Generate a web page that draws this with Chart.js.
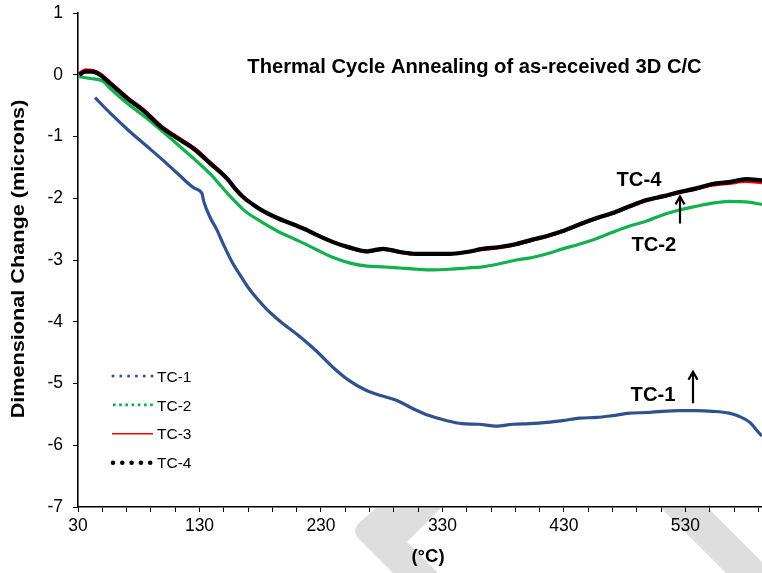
<!DOCTYPE html>
<html><head><meta charset="utf-8">
<script src="https://cdn.jsdelivr.net/npm/chart.js@4/dist/chart.umd.min.js"></script>
<style>html,body{margin:0;padding:0;background:#fff;overflow:hidden}#wrap{width:762px;height:573px}</style>
</head><body><div id="wrap"><canvas id="c" width="762" height="573"></canvas></div>
<script>
// ---- data (temperature in °C, dimensional change in microns) ----
const tc1T = [44,57,71,85,98,112,126,132,133.5,139,144,150,157,164,171,178,185,192,198,212,226,240,253,267,280,292,305,319,333,346,360,374,388,402,416,429,443,457,470,484,498,511,525,539,552,566,574,583,591,593];
const tc1Y = [-0.37,-0.63,-0.89,-1.13,-1.35,-1.6,-1.84,-1.92,-2.05,-2.32,-2.5,-2.76,-3.04,-3.26,-3.47,-3.64,-3.79,-3.92,-4.02,-4.23,-4.47,-4.74,-4.95,-5.11,-5.2,-5.27,-5.4,-5.52,-5.6,-5.65,-5.66,-5.69,-5.66,-5.65,-5.63,-5.6,-5.56,-5.55,-5.52,-5.48,-5.47,-5.45,-5.44,-5.44,-5.45,-5.48,-5.53,-5.63,-5.81,-5.85];
const tc2T = [31,40,50,57,71,85,98,112,126,139,153,167,180,194,208,219,226,240,254,268,281,295,309,322,336,350,363,377,391,404,416,429,443,457,470,484,498,511,525,539,552,566,580,593];
const tc2Y = [-0.03,-0.06,-0.1,-0.23,-0.47,-0.68,-0.89,-1.13,-1.37,-1.61,-1.92,-2.2,-2.37,-2.53,-2.66,-2.76,-2.83,-2.96,-3.05,-3.1,-3.11,-3.13,-3.15,-3.16,-3.15,-3.13,-3.11,-3.06,-3.0,-2.96,-2.9,-2.82,-2.74,-2.65,-2.55,-2.45,-2.37,-2.27,-2.19,-2.13,-2.08,-2.05,-2.06,-2.1];
const tc34T = [31,36,42,48,57,71,85,98,112,126,139,153,160,167,174,180,194,208,219,226,240,254,268,274,281,288,295,309,322,336,350,363,377,391,404,416,429,443,457,470,484,498,511,525,539,552,566,580,593];
const tc3Y = [0.02,0.08,0.07,0.02,-0.13,-0.37,-0.58,-0.82,-1.01,-1.19,-1.42,-1.68,-1.85,-1.99,-2.1,-2.18,-2.32,-2.43,-2.52,-2.59,-2.71,-2.81,-2.87,-2.85,-2.83,-2.85,-2.88,-2.91,-2.91,-2.9,-2.87,-2.83,-2.8,-2.75,-2.68,-2.62,-2.54,-2.43,-2.33,-2.25,-2.14,-2.04,-1.98,-1.91,-1.85,-1.79,-1.76,-1.73,-1.75];
const tc4Y = [0.0,0.05,0.05,0.0,-0.15,-0.39,-0.6,-0.84,-1.03,-1.21,-1.44,-1.69,-1.86,-2.0,-2.1,-2.18,-2.32,-2.43,-2.52,-2.59,-2.71,-2.8,-2.86,-2.84,-2.82,-2.84,-2.87,-2.9,-2.9,-2.9,-2.87,-2.82,-2.79,-2.74,-2.67,-2.61,-2.53,-2.42,-2.32,-2.24,-2.13,-2.03,-1.97,-1.9,-1.84,-1.77,-1.74,-1.69,-1.71];
const seriesNames = ['TC-1','TC-2','TC-3','TC-4'];
const xMajorTicks = [30,130,230,330,430,530];
const xMinorStep = 20;
const yTicks = [1,0,-1,-2,-3,-4,-5,-6,-7];
const chartTitle = 'Thermal Cycle Annealing of as-received 3D C/C';
const xTitle = '(\u00B0C)';
const yTitle = 'Dimensional Change (microns)';
const notes = [{text:'TC-4', x:491.7, y:-1.80},{text:'TC-2', x:504, y:-2.85},{text:'TC-1', x:503.3, y:-5.28}];
const arrows = [{x:525.5, from:-2.41, to:-1.97},{x:536.2, from:-5.32, to:-4.81}];

const FONT = '"Liberation Sans", Arial, Helvetica, sans-serif';
const pts = (xs, ys) => xs.map((x,i)=>({x, y: ys[i]}));

const xTickValues = [];
for (let v = 30; v <= 590; v += xMinorStep) xTickValues.push(v);

const legendStyles = [
  {color:'#2F528F', width:3, dash:[0,7.8], cap:'round'},
  {color:'#00B050', width:2.6, dash:[2.6,3.6], cap:'butt'},
  {color:'#FF0000', width:1.6, dash:[], cap:'butt'},
  {color:'#000000', width:4.6, dash:[0,9.3], cap:'round'}
];

const decor = {
  id:'decor',
  beforeDraw(chart){
    const ctx = chart.ctx;
    ctx.save();
    ctx.beginPath(); ctx.rect(0, chart.chartArea.bottom + 1, chart.width, chart.height); ctx.clip();
    ctx.fillStyle = '#DEDEDE';
    ctx.beginPath();
    ctx.moveTo(376,508); ctx.lineTo(441,508); ctx.lineTo(407,542); ctx.lineTo(438,573);
    ctx.lineTo(393,573); ctx.lineTo(359,539); ctx.quadraticCurveTo(351,531,359,523); ctx.closePath(); ctx.fill();
    ctx.beginPath();
    ctx.moveTo(661,508); ctx.lineTo(708,508); ctx.lineTo(773,573); ctx.lineTo(726,573); ctx.closePath(); ctx.fill();
    ctx.restore();
  },
  afterDraw(chart){
    const ctx = chart.ctx, xs = chart.scales.x, ys = chart.scales.y;
    ctx.save();
    ctx.fillStyle = '#000';
    // title
    ctx.font = 'bold 20.2px ' + FONT;
    ctx.textAlign = 'center'; ctx.textBaseline = 'alphabetic';
    ctx.fillText(chartTitle, 474.5, 73.3);
    // annotations
    notes.forEach(n => ctx.fillText(n.text, xs.getPixelForValue(n.x), ys.getPixelForValue(n.y)));
    ctx.strokeStyle = '#000'; ctx.lineWidth = 2.2; ctx.lineCap = 'butt';
    arrows.forEach(a => {
      const px = xs.getPixelForValue(a.x), y0 = ys.getPixelForValue(a.from), y1 = ys.getPixelForValue(a.to);
      ctx.beginPath(); ctx.moveTo(px, y0); ctx.lineTo(px, y1 + 1); ctx.stroke();
      ctx.beginPath(); ctx.moveTo(px - 4.5, y1 + 8); ctx.lineTo(px, y1); ctx.lineTo(px + 4.5, y1 + 8); ctx.stroke();
    });
    // axis titles
    ctx.font = 'bold 18.5px ' + FONT;
    ctx.textBaseline = 'middle';
    ctx.fillText(xTitle, 428, 557);
    ctx.save();
    ctx.translate(19, 259); ctx.rotate(-Math.PI/2); ctx.scale(1.17, 1);
    ctx.fillText(yTitle, 0, 0);
    ctx.restore();
    // legend
    chart.data.datasets.forEach((ds, i) => {
      const st = legendStyles[i];
      const y = 376 + i * 28.9;
      ctx.save();
      ctx.strokeStyle = st.color; ctx.lineWidth = st.width; ctx.lineCap = st.cap; ctx.setLineDash(st.dash);
      ctx.beginPath(); ctx.moveTo(i===2?112:113, y); ctx.lineTo(153, y); ctx.stroke();
      ctx.restore();
      ctx.font = '15.5px ' + FONT; ctx.textAlign = 'left'; ctx.textBaseline = 'alphabetic';
      ctx.fillText(ds.label, 157, y + 5.6);
    });
    ctx.restore();
  }
};

new Chart(document.getElementById('c'), {
  type: 'scatter',
  data: {
    datasets: [
      {label: seriesNames[0], data: pts(tc1T, tc1Y), borderColor:'#2F528F', borderWidth:3.2, order:3},
      {label: seriesNames[1], data: pts(tc2T, tc2Y), borderColor:'#13B04E', borderWidth:3.2, order:2},
      {label: seriesNames[2], data: pts(tc34T, tc3Y), borderColor:'#FF0000', borderWidth:3, order:1},
      {label: seriesNames[3], data: pts(tc34T, tc4Y), borderColor:'#000000', borderWidth:4.2, order:0}
    ].map(d => Object.assign(d, {showLine:true, pointRadius:0, pointHoverRadius:0, cubicInterpolationMode:'monotone', fill:false}))
  },
  options: {
    responsive:false, animation:false, devicePixelRatio:1,
    layout:{padding:{top:13, right:0, left:0, bottom:0}},
    plugins:{legend:{display:false}, tooltip:{enabled:false}, title:{display:false}},
    scales:{
      x:{
        type:'linear', min:30, max:593,
        afterBuildTicks: s => { s.ticks = xTickValues.map(v => ({value:v})); },
        afterFit: s => { s.height = 66; s.paddingLeft = 0; s.paddingRight = 0; },
        ticks:{autoSkip:false, maxRotation:0, padding:4, color:'#000', font:{family:FONT, size:17.5},
          callback: v => xMajorTicks.includes(v) ? String(v) : ''},
        grid:{drawOnChartArea:false, drawTicks:true, tickLength:5, tickColor:'#000', tickWidth:1},
        border:{color:'#000', width:1.6}
      },
      y:{
        type:'linear', min:-7, max:1,
        afterBuildTicks: s => { s.ticks = yTicks.map(v => ({value:v})); },
        afterFit: s => { s.width = 78; s.paddingTop = 0; s.paddingBottom = 0; },
        ticks:{padding:10, color:'#000', font:{family:FONT, size:17.5}},
        grid:{drawOnChartArea:false, drawTicks:true, tickLength:5, tickColor:'#000', tickWidth:1},
        border:{color:'#000', width:1.6}
      }
    }
  },
  plugins:[decor]
});
</script>
</body></html>
